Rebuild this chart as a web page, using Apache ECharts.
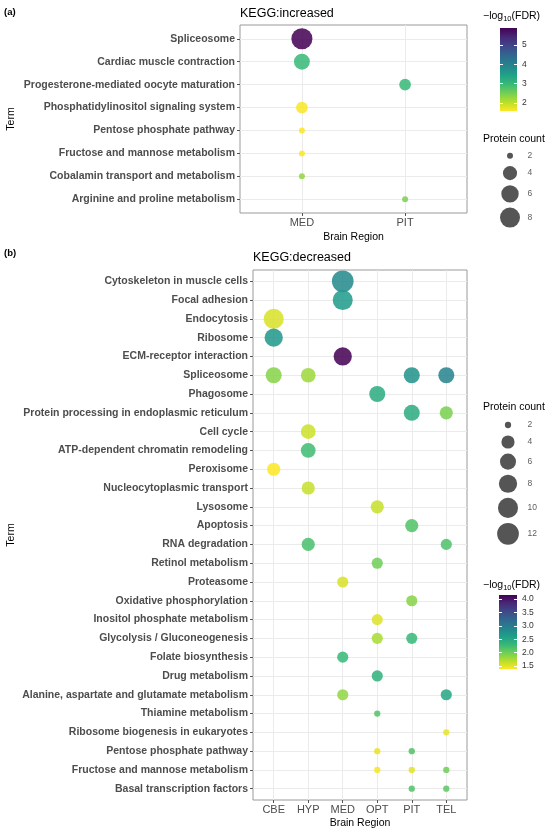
<!DOCTYPE html>
<html>
<head>
<meta charset="utf-8">
<script src="https://cdn.jsdelivr.net/npm/echarts@6/dist/echarts.min.js"></script>
<style>html,body{margin:0;padding:0;background:#fff;}#c{width:550px;height:833px;}</style>
</head>
<body>
<div id="c"></div>
<script>
// ---------- DATA ----------
const topTerms = ['Spliceosome','Cardiac muscle contraction','Progesterone-mediated oocyte maturation','Phosphatidylinositol signaling system','Pentose phosphate pathway','Fructose and mannose metabolism','Cobalamin transport and metabolism','Arginine and proline metabolism'];
const topRegions = ['MED','PIT'];
const topPointTerm = ['Spliceosome','Cardiac muscle contraction','Progesterone-mediated oocyte maturation','Phosphatidylinositol signaling system','Pentose phosphate pathway','Fructose and mannose metabolism','Cobalamin transport and metabolism','Arginine and proline metabolism'];
const topPointRegion = ['MED','MED','PIT','MED','MED','MED','MED','PIT'];
const topPointCount = [9,5,3,3,2,2,2,2];
const topPointFDR = [5.88,3.0,3.0,1.62,1.59,1.6,2.3,2.45];
const topSizeBreaks = [2,4,6,8];
const topColorBreaks = [2,3,4,5];

const botTerms = ['Cytoskeleton in muscle cells','Focal adhesion','Endocytosis','Ribosome','ECM-receptor interaction','Spliceosome','Phagosome','Protein processing in endoplasmic reticulum','Cell cycle','ATP-dependent chromatin remodeling','Peroxisome','Nucleocytoplasmic transport','Lysosome','Apoptosis','RNA degradation','Retinol metabolism','Proteasome','Oxidative phosphorylation','Inositol phosphate metabolism','Glycolysis / Gluconeogenesis','Folate biosynthesis','Drug metabolism','Alanine, aspartate and glutamate metabolism','Thiamine metabolism','Ribosome biogenesis in eukaryotes','Pentose phosphate pathway','Fructose and mannose metabolism','Basal transcription factors'];
const botRegions = ['CBE','HYP','MED','OPT','PIT','TEL'];
const botPointTerm = ['Cytoskeleton in muscle cells','Focal adhesion','Endocytosis','Ribosome','ECM-receptor interaction','Spliceosome','Spliceosome','Spliceosome','Spliceosome','Phagosome','Protein processing in endoplasmic reticulum','Protein processing in endoplasmic reticulum','Cell cycle','ATP-dependent chromatin remodeling','Peroxisome','Nucleocytoplasmic transport','Lysosome','Apoptosis','RNA degradation','RNA degradation','Retinol metabolism','Proteasome','Oxidative phosphorylation','Inositol phosphate metabolism','Glycolysis / Gluconeogenesis','Glycolysis / Gluconeogenesis','Folate biosynthesis','Drug metabolism','Alanine, aspartate and glutamate metabolism','Alanine, aspartate and glutamate metabolism','Thiamine metabolism','Ribosome biogenesis in eukaryotes','Pentose phosphate pathway','Pentose phosphate pathway','Fructose and mannose metabolism','Fructose and mannose metabolism','Fructose and mannose metabolism','Basal transcription factors','Basal transcription factors'];
const botPointRegion = ['MED','MED','CBE','CBE','MED','CBE','HYP','PIT','TEL','OPT','PIT','TEL','HYP','HYP','CBE','HYP','OPT','PIT','HYP','TEL','OPT','MED','PIT','OPT','OPT','PIT','MED','OPT','MED','TEL','OPT','TEL','OPT','PIT','OPT','PIT','TEL','PIT','TEL'];
const botPointCount = [12,10,10,8,8,6,5,6,6,6,6,4,5,5,4,4,4,4,4,3,3,3,3,3,3,3,3,3,3,3,2,2,2,2,2,2,2,2,2];
const botPointFDR = [2.85,2.65,1.55,2.7,4.15,1.9,1.8,2.75,2.9,2.45,2.45,1.95,1.6,2.25,1.39,1.62,1.62,2.15,2.2,2.18,2.0,1.55,1.9,1.52,1.75,2.3,2.3,2.38,1.85,2.5,2.15,1.48,1.48,2.15,1.42,1.5,2.0,2.15,2.1];
const botSizeBreaks = [2,4,6,8,10,12];
const botColorBreaks = [1.5,2.0,2.5,3.0,3.5,4.0];

// ---------- STYLE ----------
const FONT = "'Liberation Sans', Arial, Helvetica, sans-serif";
const VIRIDIS = ['#FDE725','#B5DE2B','#6ECE58','#35B779','#1F9E89','#26828E','#31688E','#3E4989','#482878','#440154']; // low -> high

function sizeFn(lo, hi, dmin, drange) {
  return v => dmin + drange * Math.sqrt(Math.max(0, (v - lo) / (hi - lo)));
}
const topSize = sizeFn(Math.min(...topPointCount), Math.max(...topPointCount), 6, 15.1);
const botSize = sizeFn(Math.min(...botPointCount), Math.max(...botPointCount), 6.3, 15.4);

function buildPoints(terms, regions, pt, pr, pc, pf) {
  return pt.map((t, i) => [regions.indexOf(pr[i]), terms.indexOf(t), pf[i], pc[i]]);
}
const topData = buildPoints(topTerms, topRegions, topPointTerm, topPointRegion, topPointCount, topPointFDR);
const botData = buildPoints(botTerms, botRegions, botPointTerm, botPointRegion, botPointCount, botPointFDR);

const topMin = Math.min(...topPointFDR), topMax = Math.max(...topPointFDR);
const botMin = Math.min(...botPointFDR), botMax = Math.max(...botPointFDR);

function idx(n){ return Array.from({length:n},(_,i)=>i); }

const grids = [], xAxes = [], yAxes = [], series = [], visualMaps = [];

function addPanel(g, terms, regions, data, sizeF, vmin, vmax) {
  const gi = grids.length;
  grids.push(Object.assign({show:true, borderColor:'#9a9a9a', borderWidth:1, backgroundColor:'#fff'}, g));
  xAxes.push({
    type:'value', gridIndex:gi, min:-0.6, max:regions.length-1+0.6, position:'bottom',
    axisLine:{show:false, onZero:false},
    axisTick:{show:true, length:3, lineStyle:{color:'#555'}, customValues: idx(regions.length)},
    axisLabel:{show:true, customValues: idx(regions.length), formatter: v => regions[Math.round(v)], fontFamily:FONT, fontSize:11, color:'#4d4d4d', margin:4},
    splitLine:{show:true, lineStyle:{color:'#ebebeb', width:1}}
  });
  yAxes.push({
    type:'value', gridIndex:gi, inverse:true, min:-0.6, max:terms.length-1+0.6, position:'left',
    axisLine:{show:false, onZero:false},
    axisTick:{show:true, length:3, lineStyle:{color:'#555'}, customValues: idx(terms.length)},
    axisLabel:{show:true, customValues: idx(terms.length), formatter: v => terms[Math.round(v)], fontFamily:FONT, fontSize:10.5, fontWeight:'bold', color:'#4d4d4d', margin:5},
    splitLine:{show:true, lineStyle:{color:'#ebebeb', width:1}}
  });
  const si = series.length;
  series.push({
    type:'scatter', xAxisIndex:gi, yAxisIndex:gi, data:data,
    symbolSize: v => sizeF(v[3]),
    itemStyle:{opacity:0.86}, z:3
  });
  visualMaps.push({type:'continuous', show:false, seriesIndex:si, dimension:2, min:vmin, max:vmax, inRange:{color:VIRIDIS}});
}

function addColorbar(g, vmin, vmax, breaks, fmt) {
  const gi = grids.length;
  grids.push(Object.assign({show:false}, g));
  xAxes.push({type:'value', gridIndex:gi, min:0, max:1, show:false});
  yAxes.push({
    type:'value', gridIndex:gi, min:vmin, max:vmax, position:'right', z:5,
    axisLine:{show:false, onZero:false},
    axisTick:{show:true, inside:true, length:3, lineStyle:{color:'#fff', width:1}, customValues:breaks},
    axisLabel:{show:true, customValues:breaks, formatter:fmt, fontFamily:FONT, fontSize:8.5, color:'#333', margin:5},
    splitLine:{show:false}
  });
  const gradStops = VIRIDIS.slice().reverse().map((c,i,a)=>({offset:i/(a.length-1), color:c}));
  series.push({
    type:'custom', xAxisIndex:gi, yAxisIndex:yAxes.length-1, z:1, silent:true,
    data:[[0, vmin]],
    renderItem:(params, api) => {
      const p0 = api.coord([0, vmax]);
      const p1 = api.coord([1, vmin]);
      return {type:'rect', shape:{x:p0[0], y:p0[1], width:p1[0]-p0[0], height:p1[1]-p0[1]},
        style:{fill:new echarts.graphic.LinearGradient(0,0,0,1,gradStops)}};
    }
  });
  const gi2 = grids.length;
  grids.push(Object.assign({show:false}, g));
  xAxes.push({type:'value', gridIndex:gi2, min:0, max:1, show:false});
  yAxes.push({
    type:'value', gridIndex:gi2, min:vmin, max:vmax, position:'left', z:5,
    axisLine:{show:false, onZero:false},
    axisTick:{show:true, inside:true, length:3, lineStyle:{color:'#fff', width:1}, customValues:breaks},
    axisLabel:{show:false}, splitLine:{show:false}
  });
}

function addSizeLegend(g, breaks, sizeF, firstY, circleX, labelX) {
  const gi = grids.length;
  grids.push(Object.assign({show:false}, g));
  xAxes.push({type:'value', gridIndex:gi, min:0, max:g.width, show:false});
  yAxes.push({type:'value', gridIndex:gi, min:0, max:g.height, inverse:true, show:false});
  const keyH = v => Math.max(15.8, sizeF(v) + 5);
  const ys = [];
  breaks.forEach((b,i) => { ys.push(i===0 ? firstY : ys[i-1] + (keyH(breaks[i-1]) + keyH(b))/2); });
  series.push({
    type:'scatter', xAxisIndex:gi, yAxisIndex:yAxes.length-1, silent:true,
    data: breaks.map((b,i)=>[circleX, ys[i], b]),
    symbolSize: v => sizeF(v[2]),
    itemStyle:{color:'#2b2b2b'}
  });
  series.push({
    type:'scatter', xAxisIndex:gi, yAxisIndex:yAxes.length-1, silent:true,
    data: breaks.map((b,i)=>[labelX, ys[i], b]),
    symbolSize: 1, itemStyle:{color:'rgba(0,0,0,0)'},
    label:{show:true, position:'right', distance:0, formatter:p=>String(p.value[2]), fontFamily:FONT, fontSize:8.5, color:'#333'}
  });
}

// panels
addPanel({left:240, top:25, width:227, height:188}, topTerms, topRegions, topData, topSize, topMin, topMax);
addPanel({left:253, top:270, width:214, height:530}, botTerms, botRegions, botData, botSize, botMin, botMax);
// legends
addColorbar({left:500, top:28, width:17, height:83}, topMin, topMax, topColorBreaks, v => String(Math.round(v)));
addSizeLegend({left:480, top:145, width:60, height:95}, topSizeBreaks, topSize, 10.7, 30, 47);
addSizeLegend({left:478, top:415, width:60, height:135}, botSizeBreaks, botSize, 10, 30, 49);
addColorbar({left:499, top:595, width:18, height:74}, botMin, botMax, botColorBreaks, v => v.toFixed(1));

function txt(x, y, text, opts) {
  return {type:'text', x:x, y:y, silent:true, rotation: opts && opts.rotation || 0,
    style:Object.assign({text:text, fontFamily:FONT, fontSize:10.5, fill:'#000', textAlign:'left', textVerticalAlign:'middle'}, opts && opts.style || {})};
}
const logTitle = (x,y) => ({type:'text', x:x, y:y, silent:true, style:{
  text:'{a|−log}{b|10}{a|(FDR)}', fontFamily:FONT, textAlign:'left', textVerticalAlign:'middle',
  rich:{a:{fontFamily:FONT, fontSize:10.5, fill:'#000', lineHeight:14, verticalAlign:'middle'},
        b:{fontFamily:FONT, fontSize:7.5, fill:'#000', lineHeight:14, verticalAlign:'bottom'}}
}});

const graphics = [
  txt(4, 12, '(a)', {style:{fontWeight:'bold', fontSize:9.5}}),
  txt(4, 253, '(b)', {style:{fontWeight:'bold', fontSize:9.5}}),
  txt(240, 14, 'KEGG:increased', {style:{fontSize:12.5}}),
  txt(253, 258, 'KEGG:decreased', {style:{fontSize:12.5}}),
  txt(353.5, 237, 'Brain Region', {style:{textAlign:'center'}}),
  txt(360, 823, 'Brain Region', {style:{textAlign:'center'}}),
  txt(11, 119, 'Term', {rotation:Math.PI/2, style:{textAlign:'center'}}),
  txt(11, 535, 'Term', {rotation:Math.PI/2, style:{textAlign:'center'}}),
  logTitle(483, 16),
  txt(483, 139, 'Protein count'),
  txt(483, 407, 'Protein count'),
  logTitle(483, 585)
];

const chart = echarts.init(document.getElementById('c'), null, {renderer:'canvas'});
chart.setOption({
  animation:false,
  backgroundColor:'#fff',
  textStyle:{fontFamily:FONT},
  grid:grids, xAxis:xAxes, yAxis:yAxes, series:series, visualMap:visualMaps,
  graphic:graphics
});
</script>
</body>
</html>
